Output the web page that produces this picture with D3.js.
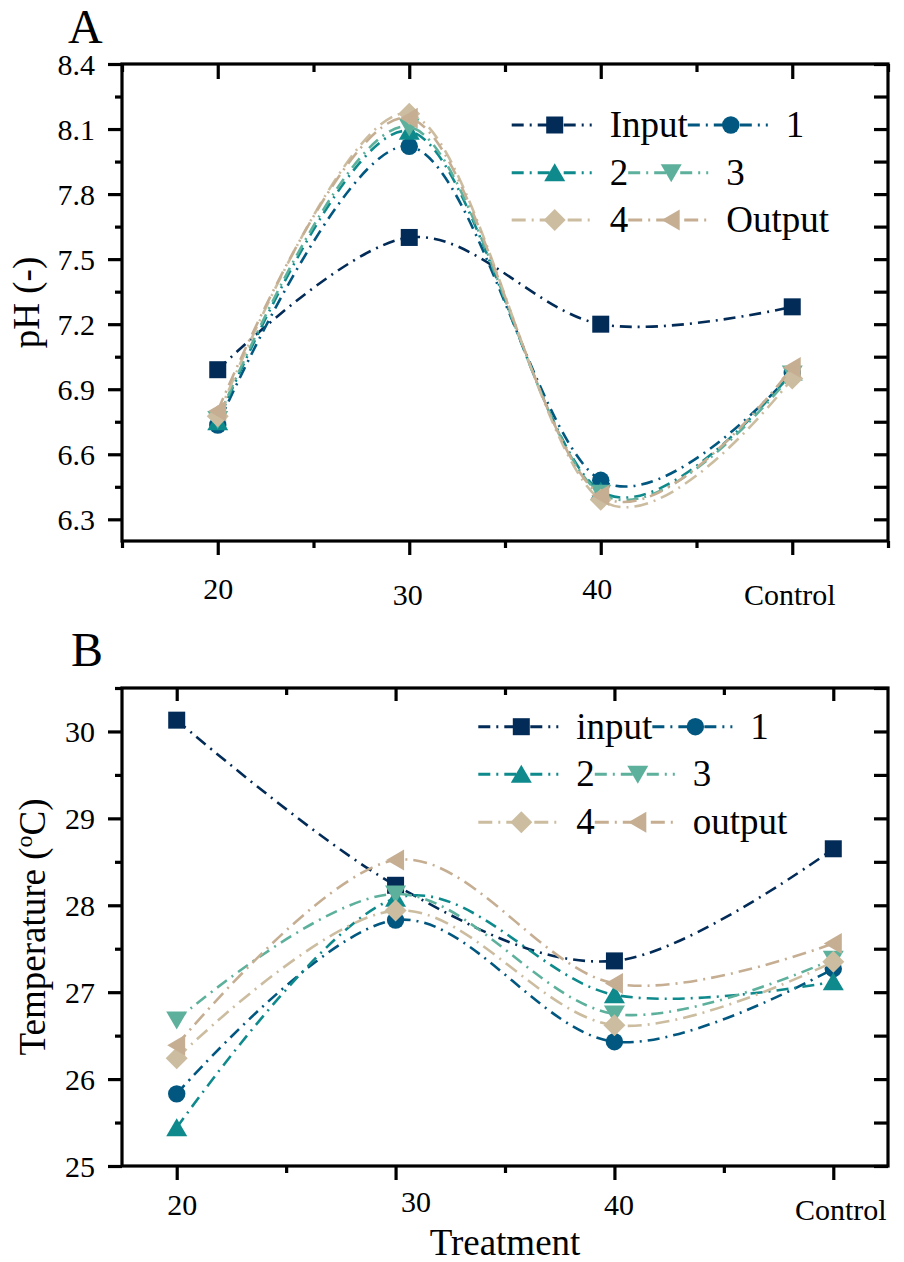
<!DOCTYPE html>
<html><head><meta charset="utf-8">
<script src="https://cdn.jsdelivr.net/npm/d3@7"></script>
<style>
html,body{margin:0;padding:0;background:#fff;}
svg{display:block;font-family:"Liberation Serif","Times New Roman",serif;}
</style></head>
<body>
<svg id="chart" width="904" height="1262"></svg>
<script>
// ---------- data ----------
const categories = ["20", "30", "40", "Control"];
const seriesNamesA = ["Input", "1", "2", "3", "4", "Output"];
const seriesNamesB = ["input", "1", "2", "3", "4", "output"];

const phInput  = [6.99, 7.60, 7.20, 7.28];
const ph1      = [6.735, 8.02, 6.48, 6.975];
const ph2      = [6.75, 8.09, 6.43, 6.98];
const ph3      = [6.76, 8.11, 6.42, 6.97];
const ph4      = [6.775, 8.17, 6.39, 6.95];
const phOutput = [6.80, 8.15, 6.41, 7.00];

const tInput  = [30.13, 28.23, 27.36, 28.65];
const t1      = [25.83, 27.83, 26.43, 27.27];
const t2      = [25.44, 28.08, 26.97, 27.12];
const t3      = [26.68, 28.13, 26.75, 27.38];
const t4      = [26.24, 27.94, 26.62, 27.35];
const tOutput = [26.39, 28.52, 27.10, 27.56];

const phTicks = [6.3, 6.6, 6.9, 7.2, 7.5, 7.8, 8.1, 8.4];
const tempTicks = [25, 26, 27, 28, 29, 30];

// ---------- styles ----------
const colors = ["#022b57", "#01577f", "#0f8a8c", "#5db19c", "#ccbda0", "#c6ae93"];
const shapes = ["square", "circle", "triUp", "triDown", "diamond", "triLeft"];
const dashes = ["12,6,2,6", "12,6,2,6", "12,6,2,6", "12,6,2,6", "14,6,2,6", "14,6,2,6"];
const FONT = '"Liberation Serif","Times New Roman",serif';

const svg = d3.select("#chart");

function symbolPath(shape) {
  switch (shape) {
    case "square": return "M-8.5,-8.5H8.5V8.5H-8.5Z";
    case "circle": return "M8.7,0A8.7,8.7 0 1,1 -8.7,0A8.7,8.7 0 1,1 8.7,0Z";
    case "triUp": return "M0,-9.5L10.5,8.5L-10.5,8.5Z";
    case "triDown": return "M0,9.5L10.5,-8.5L-10.5,-8.5Z";
    case "diamond": return "M0,-11L11,0L0,11L-11,0Z";
    case "triLeft": return "M-9.5,0L8.5,-10.5L8.5,10.5Z";
  }
}

function panel(cfg) {
  const g = svg.append("g");
  const x = d3.scaleLinear().domain(cfg.xDomain).range([cfg.left, cfg.right]);
  const y = d3.scaleLinear().domain(cfg.yDomain).range([cfg.bottom, cfg.top]);
  const idx = categories.map((c, i) => i);

  // series
  const line = d3.line().x((d, i) => x(i)).y(d => y(d)).curve(d3.curveCardinal.tension(0));
  cfg.series.forEach((s, k) => {
    g.append("path").attr("d", line(s)).attr("fill", "none")
      .attr("stroke", colors[k]).attr("stroke-width", 2.6)
      .attr("stroke-dasharray", dashes[k]);
    g.selectAll(null).data(s).enter().append("path")
      .attr("d", symbolPath(shapes[k]))
      .attr("transform", (d, i) => `translate(${x(i)},${y(d)})`)
      .attr("fill", colors[k]);
  });

  // frame
  g.append("rect").attr("x", cfg.left).attr("y", cfg.top)
    .attr("width", cfg.right - cfg.left).attr("height", cfg.bottom - cfg.top)
    .attr("fill", "none").attr("stroke", "#000").attr("stroke-width", 3.2);

  // bottom axis (outward) with labels
  const bAx = g.append("g").attr("transform", `translate(0,${cfg.bottom})`)
    .call(d3.axisBottom(x).tickValues(idx).tickSize(14).tickSizeOuter(0).tickFormat(i => categories[i]));
  const bAx2 = g.append("g").attr("transform", `translate(0,${cfg.bottom})`)
    .call(d3.axisBottom(x).tickValues(cfg.xMinor).tickSize(cfg.xMinorLen).tickSizeOuter(0).tickFormat(""));
  // top axis (inward)
  const tAx = g.append("g").attr("transform", `translate(0,${cfg.top})`)
    .call(d3.axisBottom(x).tickValues(idx).tickSize(cfg.topMajorLen).tickSizeOuter(0).tickFormat(""));
  const tAx2 = g.append("g").attr("transform", `translate(0,${cfg.top})`)
    .call(d3.axisBottom(x).tickValues(cfg.xMinor).tickSize(cfg.topMinorLen).tickSizeOuter(0).tickFormat(""));
  // left axis (outward) with labels
  const lAx = g.append("g").attr("transform", `translate(${cfg.left},0)`)
    .call(d3.axisLeft(y).tickValues(cfg.yTicks).tickSize(14).tickSizeOuter(0).tickFormat(cfg.yFormat));
  const lAx2 = g.append("g").attr("transform", `translate(${cfg.left},0)`)
    .call(d3.axisLeft(y).tickValues(cfg.yMinor).tickSize(7).tickSizeOuter(0).tickFormat(""));
  // right axis (inward)
  const rAx = g.append("g").attr("transform", `translate(${cfg.right},0)`)
    .call(d3.axisLeft(y).tickValues(cfg.yTicks.concat(cfg.yMinor)).tickSize(14).tickSizeOuter(0).tickFormat(""));

  [bAx, bAx2, tAx, tAx2, lAx, lAx2, rAx].forEach(a => {
    a.attr("font-family", FONT);
    a.select(".domain").remove();
    a.selectAll(".tick line").attr("stroke", "#000").attr("stroke-width", 3.2);
  });

  bAx.selectAll(".tick text")
    .attr("font-family", FONT).attr("font-size", 30).attr("fill", "#000")
    .attr("dy", null).attr("y", (i) => cfg.xLabelBase + cfg.xLabelDy[i])
    .attr("x", (i) => cfg.xLabelDx[i]);
  lAx.selectAll(".tick text")
    .attr("font-family", FONT).attr("font-size", 30).attr("fill", "#000")
    .attr("x", -27).attr("dy", "0.34em");

  // panel letter
  g.append("text").attr("x", cfg.letterX).attr("y", cfg.letterY).text(cfg.letter)
    .attr("font-family", FONT).attr("font-size", 48).attr("fill", "#000");

  // y title
  const yt = g.append("text")
    .attr("transform", `translate(${cfg.yTitleX},${(cfg.top + cfg.bottom) / 2}) rotate(-90)`)
    .attr("text-anchor", "middle").attr("font-family", FONT).attr("font-size", 37).attr("fill", "#000");
  cfg.yTitle(yt);

  // legend
  const lg = g.append("g");
  cfg.legendRows.forEach((row, r) => {
    let x0 = cfg.legendX;
    const yy = cfg.legendY[r];
    row.forEach(k => {
      lg.append("line").attr("x1", x0).attr("x2", x0 + 80).attr("y1", yy).attr("y2", yy)
        .attr("stroke", colors[k]).attr("stroke-width", 3).attr("stroke-dasharray", dashes[k]);
      lg.append("path").attr("d", symbolPath(shapes[k]))
        .attr("transform", `translate(${x0 + 43},${yy})`).attr("fill", colors[k]);
      const t = lg.append("text").attr("x", x0 + 98).attr("y", yy + 12)
        .attr("font-family", FONT).attr("font-size", 37).attr("fill", "#000")
        .text(cfg.names[k]);
      x0 = x0 + 98 + t.node().getComputedTextLength();
    });
  });
  return g;
}

panel({
  left: 122, right: 888, top: 64, bottom: 541,
  xDomain: [-0.5, 3.5], yDomain: [6.2, 8.4],
  xMinor: [-0.5, 0.5, 1.5, 2.5, 3.5], xMinorLen: 7,
  topMajorLen: 15, topMinorLen: 8,
  yTicks: phTicks, yMinor: [6.45, 6.75, 7.05, 7.35, 7.65, 7.95, 8.25],
  yFormat: d3.format(".1f"),
  series: [phInput, ph1, ph2, ph3, ph4, phOutput],
  names: seriesNamesA,
  xLabelBase: 58, xLabelDy: [0, 6, 0, 6], xLabelDx: [0, -2, -4, -3],
  letter: "A", letterX: 68, letterY: 43,
  yTitleX: 39,
  yTitle: t => t.text("pH (-)"),
  legendX: 511.7, legendY: [125, 172.7, 220],
  legendRows: [[0, 1], [2, 3], [4, 5]]
});

panel({
  left: 122, right: 888, top: 688, bottom: 1166,
  xDomain: [-0.25, 3.25], yDomain: [25, 30.5],
  xMinor: [0.5, 1.5, 2.5], xMinorLen: 7,
  topMajorLen: 13, topMinorLen: 7,
  yTicks: tempTicks, yMinor: [25.5, 26.5, 27.5, 28.5, 29.5, 30.5],
  yFormat: d3.format("d"),
  series: [tInput, t1, t2, t3, t4, tOutput],
  names: seriesNamesB,
  xLabelBase: 49, xLabelDy: [0, -3.5, 0, 5], xLabelDx: [5, 20, 4, 7],
  letter: "B", letterX: 71, letterY: 666,
  yTitleX: 45,
  yTitle: t => {
    t.append("tspan").text("Temperature (");
    t.append("tspan").text("o").attr("font-size", 24).attr("dy", -13);
    t.append("tspan").text("C)").attr("dy", 13);
  },
  legendX: 478.3, legendY: [726.7, 774.3, 822.3],
  legendRows: [[0, 1], [2, 3], [4, 5]]
});

// x title
svg.append("text").attr("x", 505).attr("y", 1255).attr("text-anchor", "middle")
  .attr("font-family", FONT).attr("font-size", 37).attr("fill", "#000").text("Treatment");
</script>
</body></html>
